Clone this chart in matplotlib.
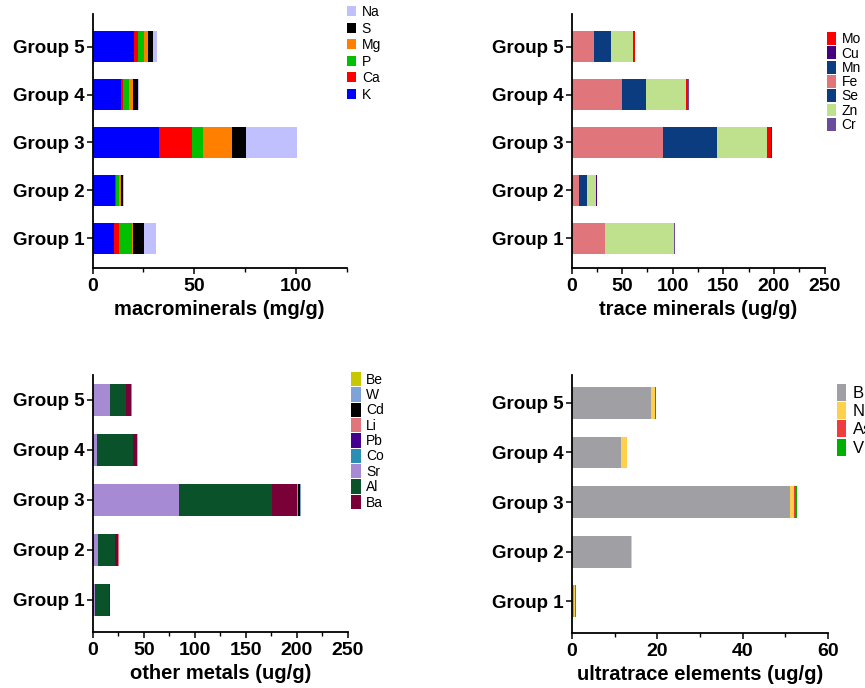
import matplotlib.pyplot as plt
import numpy as np
from matplotlib.patches import Patch
from matplotlib.ticker import MultipleLocator

plt.rcParams["font.family"] = ["Liberation Sans", "DejaVu Sans"]

W, H = 865, 688
GROUPS = ["Group 1", "Group 2", "Group 3", "Group 4", "Group 5"]

# macrominerals (mg/g), Group 1..5
K = [10.5, 11.0, 32.7, 13.9, 20.5]
Ca = [2.6, 0.5, 16.2, 0.9, 2.0]
P = [6.1, 1.5, 5.3, 3.2, 2.9]
Mg = [0.8, 0.8, 14.1, 2.0, 1.7]
S = [5.3, 1.3, 7.1, 2.5, 2.8]
Na = [5.7, 0.3, 24.8, 0.3, 1.6]

# trace minerals (ug/g)
Fe = [33.0, 7.2, 90.6, 50.0, 22.3]
Mn = [0.0, 7.9, 53.0, 23.6, 16.8]
Zn = [67.8, 9.3, 49.5, 39.7, 21.3]
Mo = [0.2, 0.3, 3.8, 1.8, 1.9]
Cu = [0.4, 0.1, 0.6, 0.4, 0.3]
Se = [0.1, 0.1, 0.2, 0.1, 0.1]
Cr = [0.5, 0.1, 0.2, 0.1, 0.1]

# other metals (ug/g)
Sr = [2.5, 5.2, 84.9, 4.5, 17.0]
Al = [13.2, 17.0, 91.2, 35.3, 15.4]
Ba = [1.0, 2.9, 23.9, 3.6, 5.5]
Li = [0.2, 0.2, 1.3, 0.3, 0.3]
Cd = [0.1, 0.1, 2.2, 0.1, 0.1]
Co = [0.05, 0.05, 0.1, 0.05, 0.05]
Pb = [0.05, 0.05, 0.1, 0.05, 0.05]
Wt = [0.02, 0.02, 0.05, 0.02, 0.02]
Be = [0.01, 0.01, 0.02, 0.01, 0.01]

# ultratrace elements (ug/g)
B = [0.5, 13.9, 51.0, 11.6, 18.4]
Ni = [0.3, 0.1, 1.1, 1.2, 1.1]
As = [0.05, 0.02, 0.1, 0.05, 0.05]
V = [0.05, 0.02, 0.6, 0.05, 0.05]

COLORS = {
    "K": "#0000ff", "Ca": "#ff0000", "P": "#00c000", "Mg": "#ff8000",
    "S": "#000000", "Na": "#c0c0ff",
    "Fe": "#e0767b", "Mn": "#0b3c80", "Zn": "#bfe08c", "Mo": "#ff0000",
    "Cu": "#45007f", "Se": "#0b3c80", "Cr": "#6a4c9c",
    "Sr": "#a68bd4", "Al": "#0a5229", "Ba": "#7a0038", "Li": "#e0767b",
    "Cd": "#000000", "Co": "#2c8db5", "Pb": "#45008f", "W": "#7fa3d9",
    "Be": "#c8c800",
    "B": "#a0a0a4", "Ni": "#ffd04c", "As": "#f03c3c", "V": "#00b000",
}

# leg = (left px, top px, fontsize pt, row px, handlelength, handleheight)
panels = [
    dict(stack=[("K", K), ("Ca", Ca), ("P", P), ("Mg", Mg), ("S", S), ("Na", Na)],
         legend=["Na", "S", "Mg", "P", "Ca", "K"],
         xlabel="macrominerals (mg/g)", xmax=125, major=50, minor=25,
         box=(92.5, 14, 347, 268), ylim=(0.38, 5.68),
         leg=(346.5, 5, 10, 15.7, 0.7, 0.73)),
    dict(stack=[("Fe", Fe), ("Mn", Mn), ("Zn", Zn), ("Mo", Mo), ("Cu", Cu),
                ("Se", Se), ("Cr", Cr)],
         legend=["Mo", "Cu", "Mn", "Fe", "Se", "Zn", "Cr"],
         xlabel="trace minerals (ug/g)", xmax=250, major=50, minor=25,
         box=(571.5, 14, 824.5, 268), ylim=(0.38, 5.68),
         leg=(826.5, 32, 10, 14.8, 0.68, 1.06)),
    dict(stack=[("Sr", Sr), ("Al", Al), ("Ba", Ba), ("Li", Li), ("Cd", Cd),
                ("Co", Co), ("Pb", Pb), ("W", Wt), ("Be", Be)],
         legend=["Be", "W", "Cd", "Li", "Pb", "Co", "Sr", "Al", "Ba"],
         xlabel="other metals (ug/g)", xmax=250, major=50, minor=25,
         box=(92.7, 375, 347.7, 632), ylim=(0.36, 5.5),
         leg=(350.5, 372, 10, 17.2, 0.72, 1.2)),
    dict(stack=[("B", B), ("Ni", Ni), ("As", As), ("V", V)],
         legend=["B", "Ni", "As", "V"],
         xlabel="ultratrace elements (ug/g)", xmax=60, major=20, minor=10,
         box=(572, 375, 828, 633), ylim=(0.36, 5.56),
         leg=(836.5, 384, 12, 21, 0.56, 1.2)),
]

fig = plt.figure(figsize=(W / 100, H / 100), dpi=100)
y = np.arange(1, len(GROUPS) + 1)

for p in panels:
    x0, yt, x1, yb = p["box"]
    ax = fig.add_axes([x0 / W, 1 - yb / H, (x1 - x0) / W, (yb - yt) / H])
    left = np.zeros(len(GROUPS))
    for name, vals in p["stack"]:
        ax.barh(y, vals, left=left, height=0.64, color=COLORS[name], linewidth=0)
        left += np.array(vals)
    ax.set_xlim(0, p["xmax"])
    ax.set_ylim(*p["ylim"])
    ax.xaxis.set_major_locator(MultipleLocator(p["major"]))
    ax.xaxis.set_minor_locator(MultipleLocator(p["minor"]))
    ax.set_yticks(y)
    ax.set_yticklabels(GROUPS)
    for s in ["top", "right"]:
        ax.spines[s].set_visible(False)
    for s in ["left", "bottom"]:
        ax.spines[s].set_linewidth(1.3)
    ax.tick_params(axis="y", which="major", width=1.1, length=4, labelsize=13.5, pad=2)
    ax.tick_params(axis="x", which="major", width=1.1, length=4, labelsize=14, pad=3)
    ax.tick_params(axis="x", which="minor", width=1.0, length=3)
    for lab in ax.get_xticklabels() + ax.get_yticklabels():
        lab.set_fontweight("bold")
    ax.set_xlabel(p["xlabel"], fontsize=14.5, fontweight="bold", labelpad=4)

    lx, ly, fs, row, hl, hh = p["leg"]
    fpx = fs * 100 / 72
    ls = max(row / fpx - max(hh, 0.95), 0.0)
    handles = [Patch(facecolor=COLORS[n], edgecolor="none") for n in p["legend"]]
    fig.legend(handles, p["legend"], loc="upper left",
               bbox_to_anchor=(lx / W, 1 - ly / H), frameon=False,
               fontsize=fs, borderpad=0, borderaxespad=0,
               handlelength=hl, handleheight=hh, handletextpad=0.4,
               labelspacing=ls)

fig.savefig("out.png", dpi=100)
